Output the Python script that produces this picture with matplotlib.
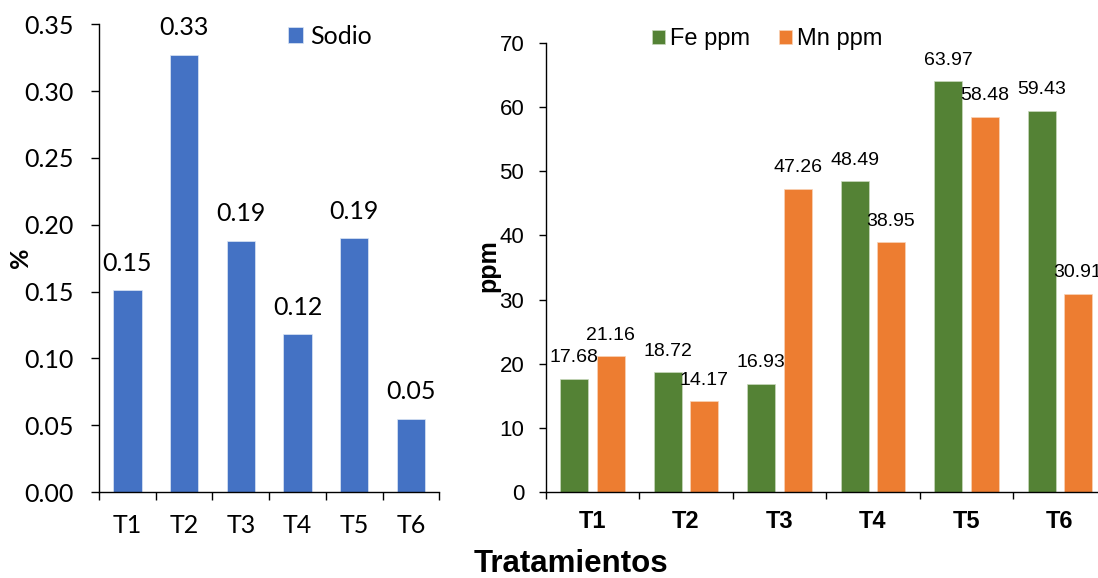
import matplotlib
matplotlib.use("Agg")
import matplotlib.pyplot as plt
import numpy as np

# datos
tratamientos = ["T1", "T2", "T3", "T4", "T5", "T6"]
sodio = [0.151, 0.327, 0.188, 0.118, 0.190, 0.0546]
fe_ppm = [17.68, 18.72, 16.93, 48.49, 63.97, 59.43]
mn_ppm = [21.16, 14.17, 47.26, 38.95, 58.48, 30.91]

AZUL = "#4472C4"
VERDE = "#548235"
NARANJA = "#ED7D31"

W, H = 1098, 578
fig = plt.figure(figsize=(W / 100, H / 100), dpi=100)

x = np.arange(len(tratamientos))

# ---- panel izquierdo: sodio (%)
ax1 = fig.add_axes([99 / W, 1 - 492 / H, 340.4 / W, 467.7 / H])
ax1.bar(x, sodio, width=0.5, color=AZUL, edgecolor="#dce6f5", linewidth=0.5,
        label="Sodio")
for xi, v in zip(x, sodio):
    ax1.annotate(f"{v:.2f}", (xi, v), xytext=(0, 19.5), textcoords="offset points",
                 ha="center", va="center", fontsize=18, family="Lato")
ax1.set_xlim(-0.5, 5.5)
ax1.set_ylim(0, 0.35)
ax1.set_yticks(np.arange(0, 0.351, 0.05))
ax1.set_yticklabels([f"{t:.2f}" for t in np.arange(0, 0.351, 0.05)])
ax1.set_xticks(x)
ax1.set_xticklabels(tratamientos)
ax1.set_xticks(np.arange(-0.5, 6, 1), minor=True)
ax1.tick_params(axis="x", which="major", length=0, pad=16, labelsize=18)
ax1.tick_params(axis="x", which="minor", length=6, width=1)
ax1.tick_params(axis="y", length=6, width=1, pad=12, labelsize=18)
for lbl in ax1.get_xticklabels() + ax1.get_yticklabels():
    lbl.set_family("Lato")
for s in ["top", "right"]:
    ax1.spines[s].set_visible(False)
for s in ["left", "bottom"]:
    ax1.spines[s].set_linewidth(1)
ax1.legend(loc="center left", bbox_to_anchor=(288 / W, 1 - 36 / H),
           bbox_transform=fig.transFigure, frameon=False, borderpad=0,
           borderaxespad=0, handlelength=0.6, handleheight=0.6,
           handletextpad=0.3, prop={"family": "Lato", "size": 18})
fig.text(20 / W, 1 - 258 / H, "%", rotation=90, ha="center", va="center",
         fontsize=18, fontweight="bold", family="Lato")

# ---- panel derecho: Fe y Mn (ppm)
ax2 = fig.add_axes([545.7 / W, 1 - 492.3 / H, 561 / W, 449.6 / H])
off, ancho = 0.194, 0.30
ax2.bar(x - off, fe_ppm, width=ancho, color=VERDE, edgecolor="#c9d9bd",
        linewidth=0.5, label="Fe ppm")
ax2.bar(x + off, mn_ppm, width=ancho, color=NARANJA, edgecolor="#f8d3b8",
        linewidth=0.5, label="Mn ppm")
for xi, v in zip(x - off, fe_ppm):
    ax2.annotate(f"{v:.2f}", (xi, v), xytext=(0, 15), textcoords="offset points",
                 ha="center", va="center", fontsize=14, family="Liberation Sans")
for xi, v in zip(x + off, mn_ppm):
    ax2.annotate(f"{v:.2f}", (xi, v), xytext=(0, 15), textcoords="offset points",
                 ha="center", va="center", fontsize=14, family="Liberation Sans")
ax2.set_xlim(-0.5, 5.5)
ax2.set_ylim(0, 70)
ax2.set_yticks(range(0, 71, 10))
ax2.set_xticks(x)
ax2.set_xticklabels(tratamientos)
ax2.set_xticks(np.arange(-0.5, 6, 1), minor=True)
ax2.tick_params(axis="x", which="major", length=0, pad=13, labelsize=17)
ax2.tick_params(axis="x", which="minor", length=5, width=1)
ax2.tick_params(axis="y", length=5.4, width=1, pad=10, labelsize=16)
for lbl in ax2.get_xticklabels():
    lbl.set_family("Liberation Sans")
    lbl.set_fontweight("bold")
for lbl in ax2.get_yticklabels():
    lbl.set_family("Liberation Sans")
for s in ["top", "right"]:
    ax2.spines[s].set_visible(False)
for s in ["left", "bottom"]:
    ax2.spines[s].set_linewidth(1)
ax2.legend(loc="center left", bbox_to_anchor=(651.7 / W, 1 - 39.5 / H),
           bbox_transform=fig.transFigure, frameon=False, ncol=2, borderpad=0,
           borderaxespad=0, handlelength=0.55, handleheight=0.55,
           handletextpad=0.24, columnspacing=1.2,
           prop={"family": "Liberation Sans", "size": 17})
fig.text(488 / W, 1 - 266 / H, "ppm", rotation=90, ha="center", va="center",
         fontsize=18, fontweight="bold", family="Liberation Sans")

fig.text(570.5 / W, 1 - 564 / H, "Tratamientos", ha="center", va="center",
         fontsize=22.5, fontweight="bold", family="Liberation Sans")

fig.savefig("out.png", dpi=100)
